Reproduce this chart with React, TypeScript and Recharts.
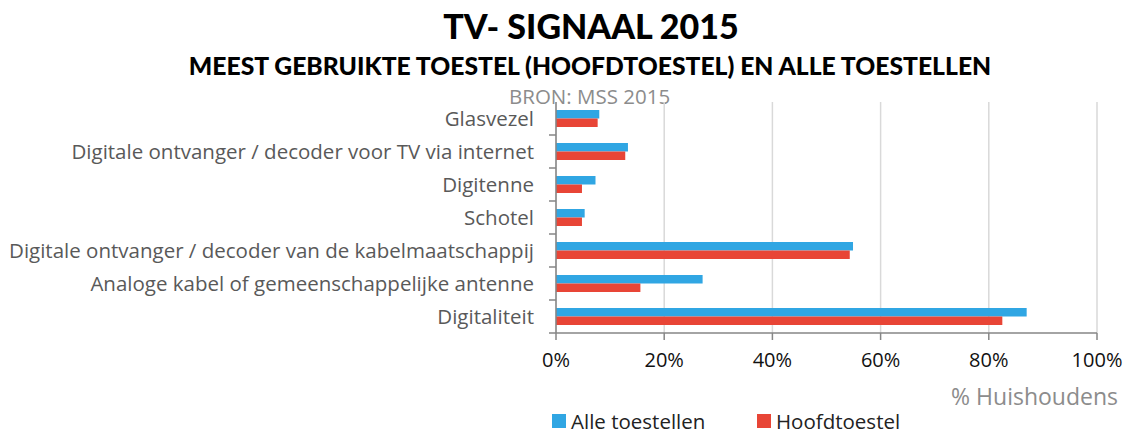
import { Bar, BarChart, CartesianGrid, XAxis, YAxis } from 'recharts'

const categories = [
  'Glasvezel',
  'Digitale ontvanger / decoder voor TV via internet',
  'Digitenne',
  'Schotel',
  'Digitale ontvanger / decoder van de kabelmaatschappij',
  'Analoge kabel of gemeenschappelijke antenne',
  'Digitaliteit',
]
const alleToestellen = [8.0, 13.3, 7.3, 5.3, 54.9, 27.1, 87.0]
const hoofdtoestel = [7.7, 12.8, 4.8, 4.8, 54.3, 15.6, 82.5]
const xTicks = [0, 20, 40, 60, 80, 100]
const seriesNames = ['Alle toestellen', 'Hoofdtoestel']

const data = categories.map((name, i) => ({
  name,
  alle: alleToestellen[i],
  hoofd: hoofdtoestel[i],
}))

const BLUE = '#30A6E3'
const RED = '#E84536'
const FONT = '"Open Sans", sans-serif'
const TFONT = 'Lato, sans-serif'

function CatTick(props: any) {
  const { x, y, payload } = props
  const half = payload.offset ?? 16.5
  return (
    <g>
      <text x={x - 22} y={y} dy="0.35em" textAnchor="end" fontSize={20.5} fill="#595959" fontFamily={FONT}>
        {payload.value}
      </text>
      <line x1={x - 7} x2={x} y1={y + half} y2={y + half} stroke="#868686" strokeWidth={1.5} />
    </g>
  )
}

function LegendBox() {
  const colors = [BLUE, RED]
  const lefts = [552, 757]
  return (
    <>
      {seriesNames.map((label, i) => (
        <div
          key={label}
          style={{ position: 'absolute', left: lefts[i], top: 409, height: 24, display: 'flex', alignItems: 'center', gap: 5, fontFamily: FONT, fontSize: 20.5, color: '#222', lineHeight: '24px' }}
        >
          <span style={{ width: 14, height: 14, background: colors[i], display: 'inline-block' }} />
          <span>{label}</span>
        </div>
      ))}
    </>
  )
}

export default function App() {
  return (
    <div style={{ position: 'absolute', left: 0, top: 0, width: 1126, height: 434, background: '#fff', fontFamily: FONT }}>
      <div style={{ position: 'absolute', left: 0, width: 1182, top: 7, textAlign: 'center', fontSize: 34, fontWeight: 900, lineHeight: 1.1, fontFamily: TFONT }}>
        TV- SIGNAAL 2015
      </div>
      <div style={{ position: 'absolute', left: 0, width: 1180, top: 52, textAlign: 'center', fontSize: 24.7, fontWeight: 900, lineHeight: 1.1, fontFamily: TFONT }}>
        MEEST GEBRUIKTE TOESTEL (HOOFDTOESTEL) EN ALLE TOESTELLEN
      </div>
      <div style={{ position: 'absolute', left: 509, top: 85, fontSize: 20.5, color: '#8c8c8c', lineHeight: 1.1 }}>
        BRON: MSS 2015
      </div>
      <BarChart
        width={1126}
        height={434}
        layout="vertical"
        data={data}
        margin={{ top: 102, right: 29, left: 0, bottom: 0 }}
        barCategoryGap="24%"
        barGap={0}
      >
        <CartesianGrid horizontal={false} stroke="#d9d9d9" strokeWidth={1.5} />
        <XAxis
          type="number"
          domain={[0, 100]}
          ticks={xTicks}
          tickFormatter={(v) => `${v}%`}
          height={101}
          tickSize={7}
          tickMargin={13}
          tick={{ fontSize: 20, fill: '#111', fontFamily: FONT }}
          axisLine={{ stroke: '#868686', strokeWidth: 1.5 }}
          tickLine={{ stroke: '#868686', strokeWidth: 1.5 }}
        />
        <XAxis
          xAxisId="top"
          orientation="top"
          type="number"
          domain={[0, 100]}
          height={0}
          tick={false}
          tickLine={false}
          axisLine={{ stroke: '#d9d9d9', strokeWidth: 1.5 }}
        />
        <YAxis
          type="category"
          dataKey="name"
          width={556}
          tick={<CatTick />}
          tickLine={false}
          tickSize={0}
          tickMargin={0}
          axisLine={{ stroke: '#868686', strokeWidth: 1.5 }}
          interval={0}
        />
        <Bar dataKey="alle" name={seriesNames[0]} fill={BLUE} barSize={8.5} isAnimationActive={false} />
        <Bar dataKey="hoofd" name={seriesNames[1]} fill={RED} barSize={8.5} isAnimationActive={false} />
      </BarChart>
      <LegendBox />
      <div style={{ position: 'absolute', right: 8, top: 384, fontSize: 23, color: '#8c8c8c', lineHeight: 1.1 }}>
        % Huishoudens
      </div>
    </div>
  )
}
